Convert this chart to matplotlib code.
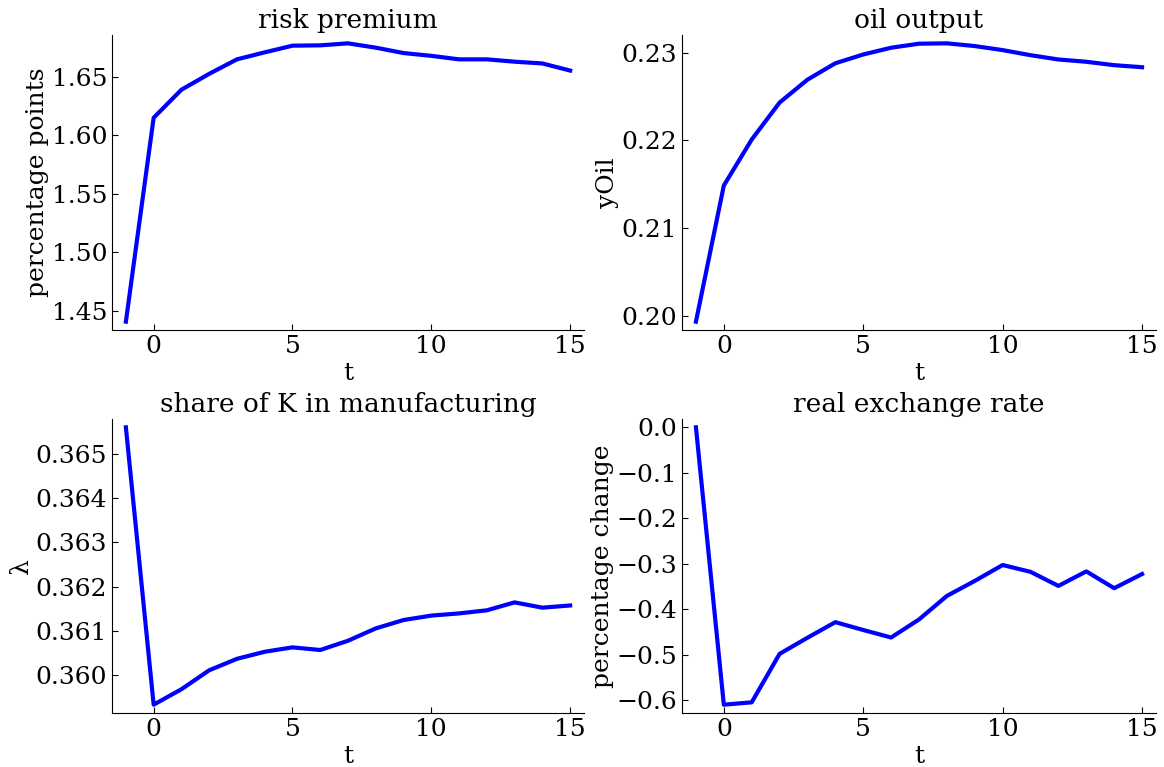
import numpy as np
import matplotlib
matplotlib.use('Agg')
import matplotlib.pyplot as plt
from matplotlib.ticker import MultipleLocator

# impulse responses, t = -1 .. 15
t = list(range(-1, 16))

risk_premium = [1.4405, 1.615, 1.639, 1.6526, 1.665, 1.671, 1.6767, 1.677, 1.6787,
                1.675, 1.6704, 1.668, 1.665, 1.665, 1.663, 1.6615, 1.6554]
oil_output = [0.19934, 0.21486, 0.2201, 0.22432, 0.22693, 0.2288, 0.2298, 0.23057, 0.23103,
              0.23107, 0.23076, 0.2303, 0.22972, 0.22923, 0.22897, 0.22858, 0.22835]
share_k = [0.36561, 0.35932, 0.35967, 0.3601, 0.36036, 0.36052, 0.36062, 0.36056, 0.36077,
           0.36105, 0.36124, 0.36134, 0.36139, 0.36146, 0.36164, 0.36152, 0.36157]
real_exch = [0.0, -0.6103, -0.6051, -0.4985, -0.463, -0.4287, -0.446, -0.4625, -0.4228,
             -0.371, -0.338, -0.303, -0.318, -0.349, -0.317, -0.354, -0.3228]

titles = ['risk premium', 'oil output', 'share of K in manufacturing', 'real exchange rate']
ylabels = ['percentage points', 'yOil', 'λ', 'percentage change']
ysteps = [0.05, 0.01, 0.001, 0.1]
series = [risk_premium, oil_output, share_k, real_exch]

plt.rcParams['font.family'] = ['DejaVu Serif']
plt.rcParams['font.size'] = 18

fig = plt.figure(figsize=(11.64, 7.67), dpi=100)
W, H = 1164.0, 767.0
# axes boxes in pixels: left, top, right, bottom
boxes = [(112, 35, 584, 330), (682, 35, 1156, 330),
         (112, 419, 584, 713), (682, 419, 1156, 713)]

for i in range(4):
	l, tp, r, b = boxes[i]
	ax = fig.add_axes([l/W, 1-b/H, (r-l)/W, (b-tp)/H])
	ax.plot(t, series[i], color='blue', lw=3)
	ax.set_xlim(-1.5, 15.5)
	ax.margins(y=0.03)
	ax.set_xticks([0, 5, 10, 15])
	ax.yaxis.set_major_locator(MultipleLocator(ysteps[i]))
	ax.spines['top'].set_visible(False)
	ax.spines['right'].set_visible(False)
	ax.tick_params(direction='in', length=4, labelsize=18)
	ax.set_title(titles[i], fontsize=19, pad=5)
	ax.set_xlabel('t', fontsize=18, labelpad=3)
	ax.set_ylabel(ylabels[i], fontsize=18, labelpad=2)

plt.savefig('out.png', dpi=100)
